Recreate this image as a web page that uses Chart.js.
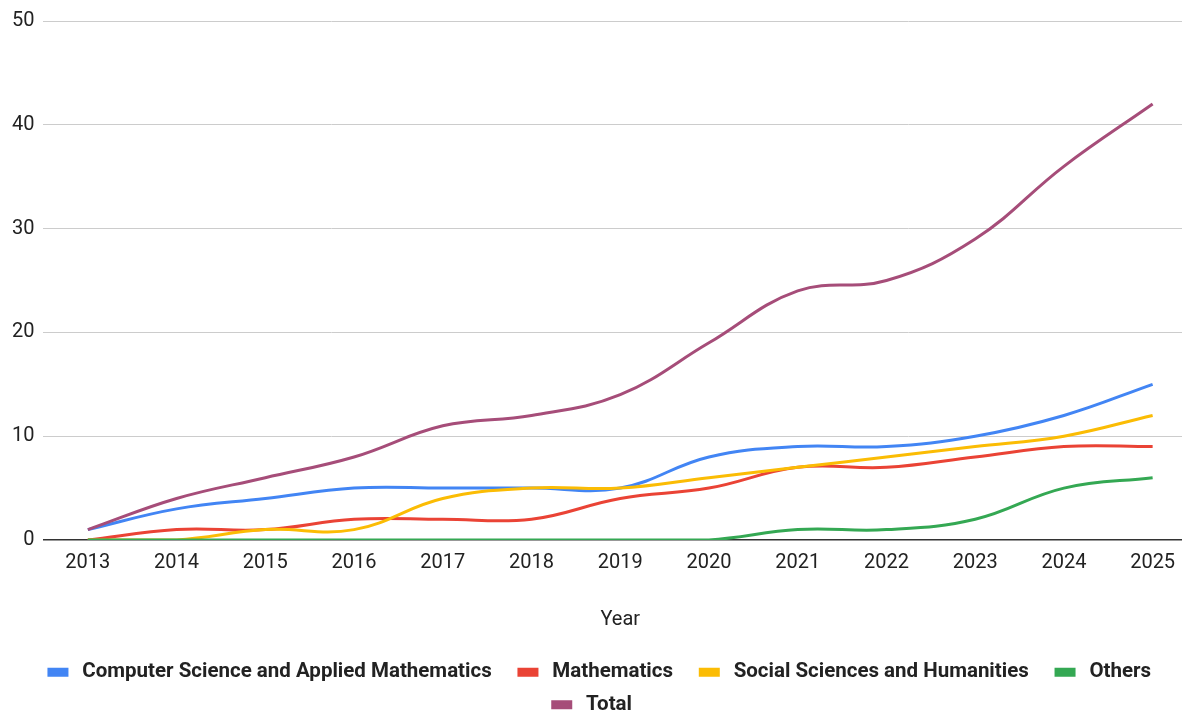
<!DOCTYPE html>
<html>
<head>
<meta charset="utf-8">
<script src="https://cdn.jsdelivr.net/npm/chart.js@4"></script>
<style>
  html, body { margin: 0; padding: 0; background: #fff; overflow: hidden; }
  #wrap { width: 1197px; height: 725px; }
</style>
</head>
<body>
<div id="wrap"><canvas id="chart"></canvas></div>
<script>
const years = ['2013', '2014', '2015', '2016', '2017', '2018', '2019', '2020', '2021', '2022', '2023', '2024', '2025'];
const csApplied = [1, 3, 4, 5, 5, 5, 5, 8, 9, 9, 10, 12, 15];
const mathematics = [0, 1, 1, 2, 2, 2, 4, 5, 7, 7, 8, 9, 9];
const socialSciences = [0, 0, 1, 1, 4, 5, 5, 6, 7, 8, 9, 10, 12];
const others = [0, 0, 0, 0, 0, 0, 0, 0, 1, 1, 2, 5, 6];
const total = [1, 4, 6, 8, 11, 12, 14, 19, 24, 25, 29, 36, 42];
const yTicks = [0, 10, 20, 30, 40, 50];

Chart.defaults.font.family = 'Roboto';
Chart.defaults.color = '#222';

function line(label, data, color, order) {
    return {
        label: label,
        data: data,
        borderColor: color,
        backgroundColor: color,
        borderWidth: 3,
        pointRadius: 0,
        tension: 0.4,
        fill: false,
        order: order
    };
}

new Chart(document.getElementById('chart'), {
    type: 'line',
    data: {
        labels: years,
        datasets: [
            line('Computer Science and Applied Mathematics', csApplied, '#4285F4', 5),
            line('Mathematics', mathematics, '#EA4335', 4),
            line('Social Sciences and Humanities', socialSciences, '#FBBC04', 3),
            line('Others', others, '#34A853', 2),
            line('Total', total, '#A64D79', 1)
        ]
    },
    options: {
        responsive: true,
        maintainAspectRatio: false,
        animation: false,
        layout: { padding: { top: 3, left: 3, right: 0, bottom: 0 } },
        plugins: {
            legend: {
                position: 'bottom',
                labels: {
                    // a leading space widens the gap to the marker, trailing ones the gap to the next item
                    generateLabels: (chart) => Chart.defaults.plugins.legend.labels.generateLabels(chart)
                        .sort((a, b) => a.datasetIndex - b.datasetIndex)
                        .map(item => {
                            item.text = ' ' + item.text + (item.text === 'Others' ? '' : '   ');
                            return item;
                        }),
                    boxWidth: 18,
                    boxHeight: 6,
                    padding: 12,
                    color: '#222',
                    font: { size: 20.5, weight: 'bold' }
                }
            },
            tooltip: { enabled: false }
        },
        scales: {
            x: {
                offset: true,
                grid: { display: false },
                border: { display: false },
                ticks: { font: { size: 20 }, padding: 3, maxRotation: 0 },
                title: { display: true, text: 'Year', font: { size: 20 }, padding: { top: 30, bottom: 18 } }
            },
            y: {
                min: 0,
                max: 50,
                afterBuildTicks: (axis) => { axis.ticks = yTicks.map(v => ({ value: v })); },
                grid: {
                    drawTicks: false,
                    color: (ctx) => ctx.tick && ctx.tick.value === 0 ? '#333' : '#ccc',
                    lineWidth: (ctx) => ctx.tick && ctx.tick.value === 0 ? 1.5 : 1
                },
                border: { display: false },
                ticks: { font: { size: 20 }, padding: 9 }
            }
        }
    }
});
</script>
</body>
</html>
